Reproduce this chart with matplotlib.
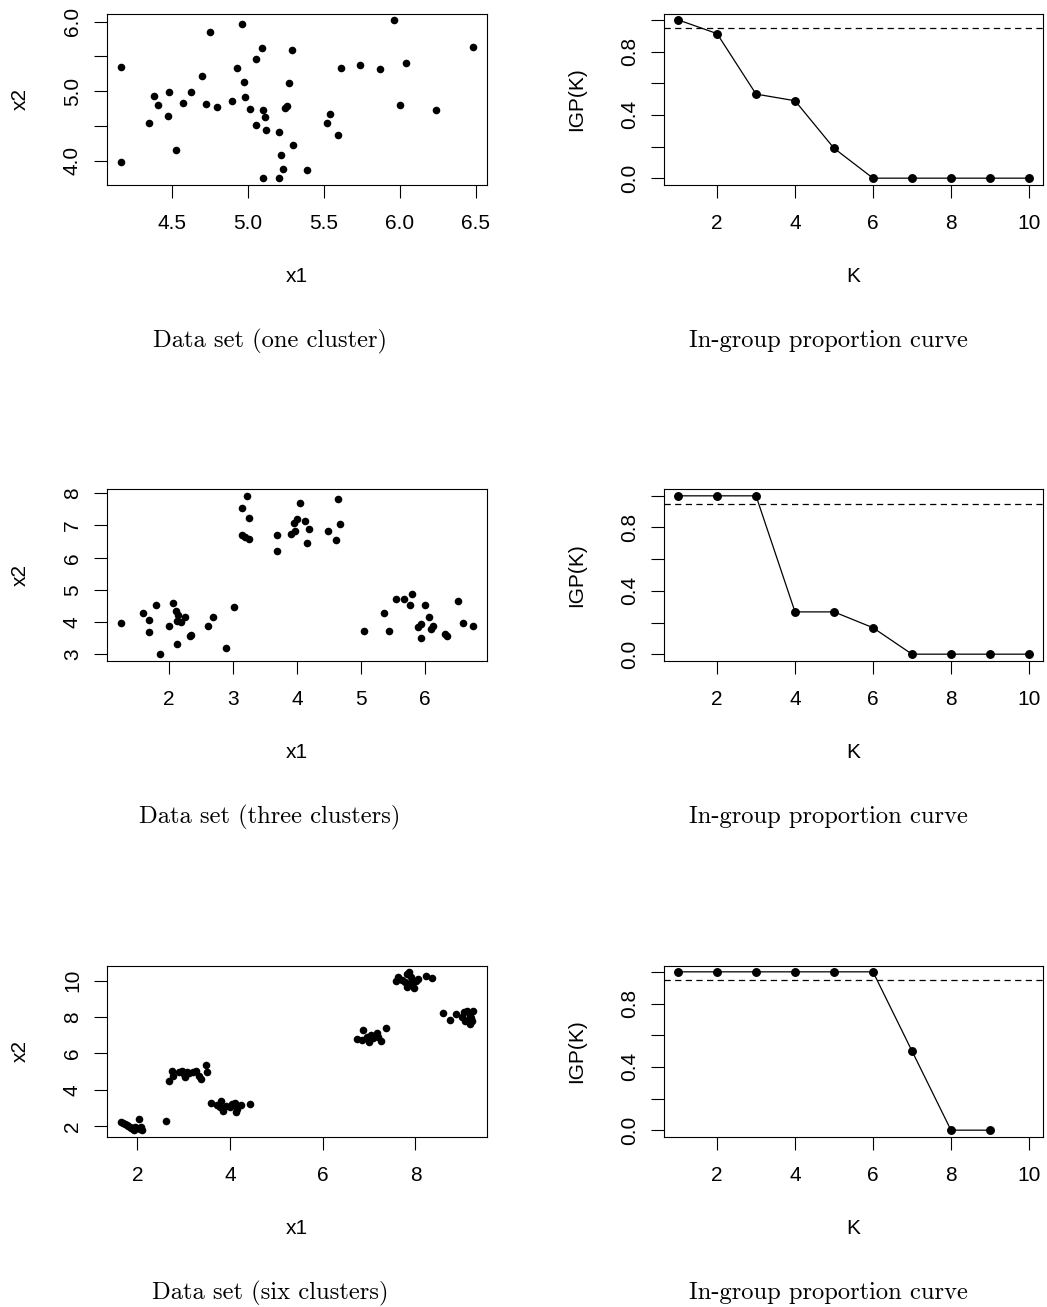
"""
In-group proportion: three data sets and their IGP curves
"""
import matplotlib
matplotlib.use("Agg")
import matplotlib.pyplot as plt
import numpy as np

# ===== data =====
one_x = [4.165, 4.163, 4.749, 4.960, 5.960, 6.482, 5.090, 5.289, 5.053, 4.927,
         4.696, 4.971, 5.271, 5.610, 5.736, 5.870, 6.042, 4.377, 4.478, 4.623,
         4.405, 4.568, 4.722, 4.794, 4.896, 4.978, 5.011, 5.097, 5.112, 5.244,
         5.258, 4.469, 4.348, 5.051, 5.115, 5.203, 5.518, 5.542, 5.593, 6.004,
         6.236, 4.526, 5.297, 5.220, 5.233, 5.390, 5.097, 5.207]
one_y = [5.350, 3.980, 5.846, 5.957, 6.024, 5.636, 5.621, 5.597, 5.458, 5.338,
         5.223, 5.132, 5.118, 5.338, 5.381, 5.319, 5.400, 4.935, 4.988, 4.988,
         4.796, 4.825, 4.806, 4.772, 4.854, 4.911, 4.739, 4.724, 4.628, 4.758,
         4.791, 4.643, 4.537, 4.508, 4.436, 4.408, 4.542, 4.667, 4.374, 4.796,
         4.729, 4.153, 4.230, 4.082, 3.880, 3.861, 3.746, 3.746]

three_x = [1.260, 1.599, 1.703, 1.703, 1.802, 1.870, 2.063, 2.109, 2.141, 2.130,
           2.188, 2.255, 2.010, 2.130, 2.339, 2.354, 2.615, 2.688, 2.896, 3.021,
           3.141, 3.229, 3.255, 3.151, 3.193, 3.250, 3.698, 3.698, 3.906, 3.974,
           3.958, 4.005, 4.052, 4.130, 4.188, 4.151, 4.484, 4.635, 4.667, 4.615,
           5.047, 5.354, 5.443, 5.547, 5.677, 5.792, 5.771, 6.000, 6.063, 5.885,
           5.938, 5.938, 6.094, 6.130, 6.302, 6.339, 6.505, 6.583, 6.745]
three_y = [3.981, 4.271, 4.064, 3.692, 4.529, 3.010, 4.581, 4.353, 4.229, 4.023,
           3.992, 4.157, 3.868, 3.331, 3.579, 3.599, 3.868, 4.147, 3.186, 4.477,
           7.525, 7.917, 7.225, 6.709, 6.636, 6.585, 6.688, 6.192, 6.719, 6.833,
           7.060, 7.184, 7.700, 7.132, 6.884, 6.461, 6.822, 7.824, 7.050, 6.554,
           3.713, 4.281, 3.733, 4.725, 4.725, 4.890, 4.529, 4.529, 4.167, 3.847,
           3.940, 3.496, 3.795, 3.888, 3.640, 3.579, 4.663, 3.981, 3.878]

six_x = [1.65, 1.70, 1.74, 1.78, 1.80, 1.84, 1.87, 1.90, 1.93, 1.96, 2.00, 2.04,
         2.06, 2.08, 2.10, 2.62,
         2.692, 2.750, 2.779, 2.908, 2.966, 3.017, 3.038, 3.067, 3.125, 3.197,
         3.269, 3.327, 3.377, 3.471, 3.507,
         3.593, 3.716, 3.810, 3.788, 3.846, 3.918, 3.990, 4.048, 4.098, 4.120,
         4.149, 4.242, 4.437,
         6.730, 6.860, 6.838, 7.004, 7.033, 7.090, 7.162, 7.198, 7.256, 7.357,
         6.946,
         7.580, 7.631, 7.703, 7.775, 7.826, 7.869, 7.898, 7.920, 7.811, 7.977,
         8.013, 8.063, 8.229, 8.352, 7.934,
         8.604, 8.748, 8.878, 9.001, 9.109, 9.181, 9.239, 9.167, 9.145, 9.073,
         9.217, 9.037, 9.195]
six_y = [2.24, 2.15, 2.10, 2.05, 2.00, 1.98, 1.92, 1.85, 1.78, 1.95, 1.90, 2.37,
         1.85, 1.97, 1.80, 2.26,
         4.459, 5.009, 4.771, 4.954, 5.046, 4.862, 4.716, 4.954, 4.899, 4.954,
         5.009, 4.771, 4.587, 5.358, 4.991,
         3.248, 3.156, 3.394, 3.028, 2.807, 3.119, 3.028, 3.211, 3.248, 2.752,
         2.936, 3.156, 3.211,
         6.789, 7.303, 6.734, 6.642, 7.028, 6.844, 7.101, 6.917, 6.697, 7.394,
         6.917,
         9.963, 10.183, 10.055, 9.908, 10.367, 10.477, 10.183, 9.963, 9.670, 9.596,
         9.963, 10.092, 10.275, 10.147, 9.817,
         8.220, 7.835, 8.165, 8.018, 8.349, 8.073, 8.312, 7.615, 7.890, 7.798,
         7.761, 8.257, 7.945]

K = list(range(1, 11))
igp_one = [1.0, 0.913, 0.531, 0.489, 0.189, 0.0, 0.0, 0.0, 0.0, 0.0]
igp_three = [1.0, 1.0, 1.0, 0.267, 0.267, 0.167, 0.0, 0.0, 0.0, 0.0]
igp_six = [1.0, 1.0, 1.0, 1.0, 1.0, 1.0, 0.5, 0.0, 0.0]
igp_threshold = 0.95

captions_left = ["Data set (one cluster)", "Data set (three clusters)", "Data set (six clusters)"]
caption_right = "In-group proportion curve"

# ===== R base-graphics look =====
W, H = 1047, 1307
plt.rcParams["font.family"] = ["Liberation Sans", "DejaVu Sans"]
plt.rcParams["font.size"] = 15
plt.rcParams["axes.linewidth"] = 0.8
plt.rcParams["xtick.major.size"] = 9.5
plt.rcParams["ytick.major.size"] = 9.5
plt.rcParams["xtick.major.width"] = 0.8
plt.rcParams["ytick.major.width"] = 0.8
plt.rcParams["xtick.major.pad"] = 12.0
plt.rcParams["ytick.major.pad"] = 8.5

fig = plt.figure(figsize=(W / 100, H / 100), dpi=100)

AX_H = 171
ROW_TOPS = [13.5, 489.5, 965.5]
LEFT_X = (107, 487)
RIGHT_X = (664, 1043)
CAP_Y = [341, 817, 1293]


def make_axes(x0, x1, top):
    return fig.add_axes([x0 / W, 1 - (top + AX_H) / H, (x1 - x0) / W, AX_H / H])


def r_limits(vals):
    # R 默认 4% 的边距
    lo, hi = min(vals), max(vals)
    pad = 0.04 * (hi - lo)
    return lo - pad, hi + pad


def style_axes(ax, xlabel, ylabel):
    ax.tick_params(direction="out", top=False, right=False)
    for t in ax.get_yticklabels():
        t.set_rotation(90)
        t.set_va("center")
    ax.set_xlabel(xlabel, va="center")
    ax.set_ylabel(ylabel, va="center")
    w = ax.get_position().width * W
    ax.xaxis.set_label_coords(0.5, -92 / AX_H)
    ax.yaxis.set_label_coords(-87 / w, 0.5)


def tick_labels(ticks, shown, fmt):
    return [fmt.format(t) if t in shown else "" for t in ticks]


scatter_sets = [
    (one_x, one_y, [4.5, 5.0, 5.5, 6.0, 6.5], [4.0, 4.5, 5.0, 5.5, 6.0], [4.0, 5.0, 6.0], "{:.1f}", "{:.1f}"),
    (three_x, three_y, [2, 3, 4, 5, 6], [3, 4, 5, 6, 7, 8], [3, 4, 5, 6, 7, 8], "{:d}", "{:d}"),
    (six_x, six_y, [2, 4, 6, 8], [2, 4, 6, 8, 10], [2, 4, 6, 8, 10], "{:d}", "{:d}"),
]
igp_sets = [igp_one, igp_three, igp_six]

igp_yticks = [0.0, 0.2, 0.4, 0.6, 0.8, 1.0]
igp_ylabels = ["0.0", "", "0.4", "", "0.8", ""]

for row, (xs, ys, xt, yt, yshown, xfmt, yfmt) in enumerate(scatter_sets):
    # 数据散点图
    ax = make_axes(*LEFT_X, ROW_TOPS[row])
    ax.scatter(xs, ys, s=30, color="black", linewidths=0, zorder=3)
    ax.set_xlim(*r_limits(xs))
    ax.set_ylim(*r_limits(ys))
    ax.set_xticks(xt)
    ax.set_xticklabels([xfmt.format(t) for t in xt])
    ax.set_yticks(yt)
    ax.set_yticklabels(tick_labels(yt, yshown, yfmt))
    style_axes(ax, "x1", "x2")
    fig.text(270 / W, 1 - CAP_Y[row] / H, captions_left[row], ha="center", va="center",
             family=["cmr10", "DejaVu Serif"], fontsize=17.7)

    # IGP 曲线
    ax2 = make_axes(*RIGHT_X, ROW_TOPS[row])
    vals = igp_sets[row]
    ax2.plot(K[:len(vals)], vals, color="black", lw=0.9, marker="o", ms=5.4, zorder=3)
    ax2.axhline(igp_threshold, color="black", lw=0.9, dashes=(5, 3.5))
    ax2.set_xlim(*r_limits(K))
    ax2.set_ylim(*r_limits([0.0, 1.0]))
    ax2.set_xticks([2, 4, 6, 8, 10])
    ax2.set_yticks(igp_yticks)
    ax2.set_yticklabels(igp_ylabels)
    style_axes(ax2, "K", "IGP(K)")
    fig.text(828 / W, 1 - CAP_Y[row] / H, caption_right, ha="center", va="center",
             family=["cmr10", "DejaVu Serif"], fontsize=17.7)

fig.savefig("out.png", dpi=100)
